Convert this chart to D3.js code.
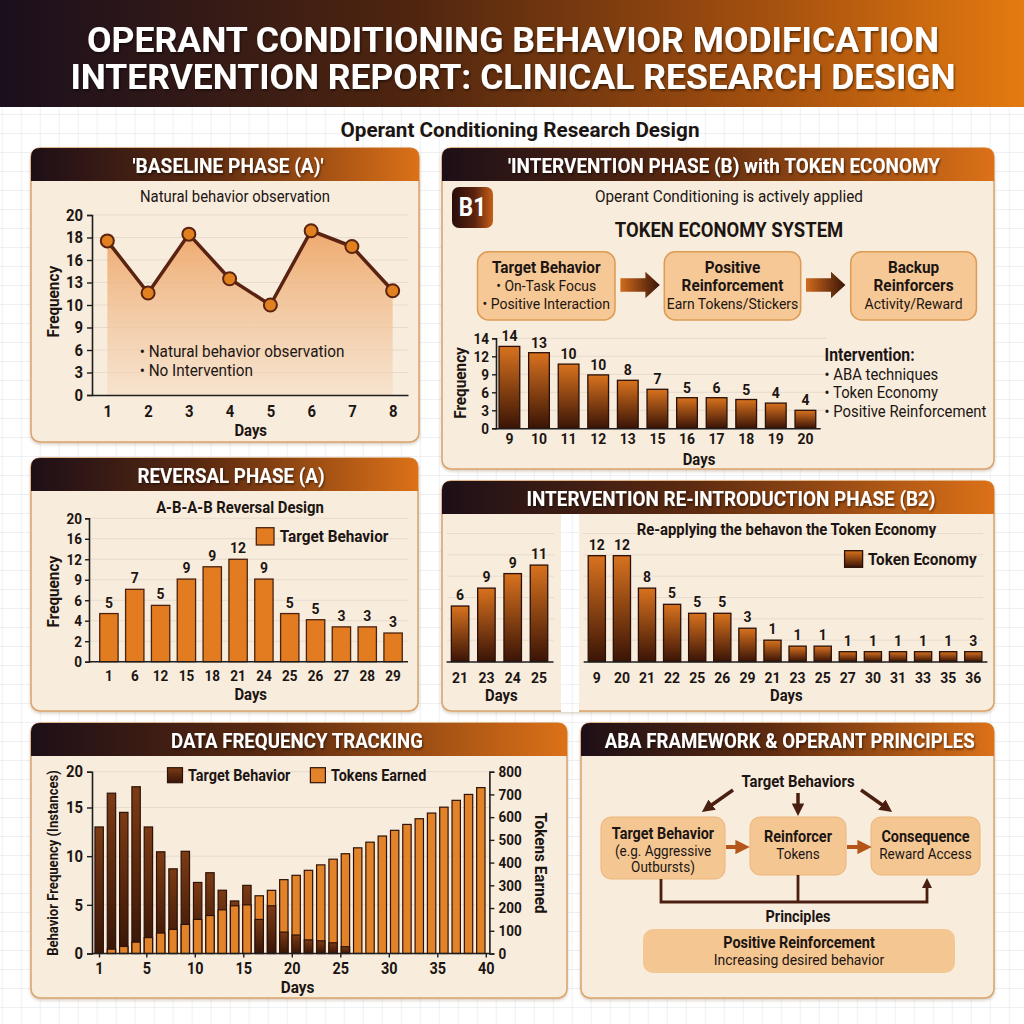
<!DOCTYPE html>
<html>
<head>
<meta charset="utf-8">
<title>Operant Conditioning Behavior Modification</title>
<script src="https://cdn.jsdelivr.net/npm/d3@7"></script>
<style>
  body { margin: 0; background: #fff; }
  svg { display: block; }
</style>
</head>
<body>
<svg id="chart" width="1024" height="1024"></svg>
<script>
// ---- data ----
var baselineDays = [1, 2, 3, 4, 5, 6, 7, 8];
var baselineFreq = [17.7, 11.6, 18.3, 13.5, 10.0, 18.6, 17.2, 11.9];
var baselineTicks = [0, 3, 6, 9, 10, 13, 16, 18, 20];

var tokenDays = ["9", "10", "11", "12", "13", "15", "16", "17", "18", "19", "20"];
var tokenFreq = [13.1, 12.4, 10.7, 8.9, 8.0, 6.5, 5.1, 5.1, 4.8, 4.2, 3.0];
var tokenLabels = [14, 13, 10, 10, 8, 7, 5, 6, 5, 4, 4];
var tokenTicks = [0, 3, 6, 9, 12, 14];

var reversalDays = ["1", "6", "12", "15", "18", "21", "24", "25", "26", "27", "28", "29"];
var reversalFreq = [4.7, 7.6, 5.5, 9.1, 10.9, 12, 9.1, 4.7, 4.1, 3.4, 3.4, 2.8];
var reversalLabels = [5, 7, 5, 9, 9, 12, 9, 5, 5, 3, 3, 3];
var reversalTicks = [0, 2, 4, 6, 9, 12, 16, 20];

var reintroEarlyDays = ["21", "23", "24", "25"];
var reintroEarlyFreq = [6.5, 8.6, 10.3, 11.3];
var reintroEarlyLabels = [6, 9, 9, 11];
var reintroDays = ["9", "20", "21", "22", "25", "26", "29", "21", "23", "25", "27", "30", "31", "33", "35", "36"];
var reintroFreq = [12.4, 12.4, 8.6, 6.7, 5.65, 5.65, 3.9, 2.5, 1.8, 1.8, 1.15, 1.15, 1.15, 1.15, 1.15, 1.15];
var reintroLabels = [12, 12, 8, 5, 5, 5, 3, 1, 1, 1, 1, 1, 1, 1, 1, 3];
var reintroGrid = [2.5, 5, 7.5, 10, 12.5, 15];

var trackBehavior = [13.0, 17.0, 14.5, 17.9, 13.0, 10.45, 8.7, 10.5, 7.3, 8.3, 6.5, 5.4, 7.0, 3.5, 4.9, 2.2,
  1.9, 1.4, 1.3, 1.1, 0.7, 0, 0, 0, 0, 0, 0, 0, 0, 0, 0, 0];
var trackTokens = [0, 19, 31, 50, 70, 90, 106, 128, 150, 167, 192, 210, 214, 254, 278, 325,
  344, 366, 390, 415, 439, 465, 490, 517, 542, 568, 593, 618, 644, 674, 700, 730];
var trackDayTicks = [1, 5, 10, 15, 20, 25, 30, 35, 40];
var trackFreqTicks = [0, 5, 10, 15, 20];
var trackTokenTicks = [0, 100, 200, 300, 400, 500, 600, 700, 800];

var flowSteps = [
  {title: ["Target Behavior"], lines: ["• On-Task Focus", "• Positive Interaction"]},
  {title: ["Positive", "Reinforcement"], lines: ["Earn Tokens/Stickers"]},
  {title: ["Backup", "Reinforcers"], lines: ["Activity/Reward"]}
];
var abaSteps = [
  {title: "Target Behavior", lines: ["(e.g. Aggressive", "Outbursts)"]},
  {title: "Reinforcer", lines: ["Tokens"]},
  {title: "Consequence", lines: ["Reward Access"]}
];

// ---- setup ----
var svg = d3.select("#chart");
var FONT = "Roboto, 'Noto Sans', 'DejaVu Sans', sans-serif";
var INK = "#1c1512";
var COND = 0.9;  // squeeze text to look like a condensed face
var defs = svg.append("defs");

function gradient(id, horizontal, stops) {
  var g = defs.append("linearGradient").attr("id", id)
    .attr("x1", 0).attr("y1", 0).attr("x2", horizontal ? 1 : 0).attr("y2", horizontal ? 0 : 1);
  stops.forEach(function(s) {
    g.append("stop").attr("offset", s[0]).attr("stop-color", s[1])
      .attr("stop-opacity", s[2] == null ? 1 : s[2]);
  });
}
gradient("topGrad", true, [[0, "#1a0f1d"], [0.4, "#4f250f"], [0.75, "#a4500f"], [1, "#e47a10"]]);
gradient("headGrad", true, [[0, "#1d0f17"], [0.45, "#5c2a10"], [1, "#dc7118"]]);
gradient("barGrad", false, [[0, "#d8721e"], [1, "#3a1406"]]);
gradient("darkGrad", false, [[0, "#7c3b14"], [1, "#381507"]]);
gradient("areaGrad", false, [[0, "#eda261", 0.9], [1, "#f5dcc2", 0.6]]);
gradient("arrowGrad", true, [[0, "#d06b1d"], [1, "#3a1407"]]);
gradient("badgeGrad", true, [[0, "#2a0d08"], [0.55, "#5a2310"], [1, "#c75f17"]]);

var sh = defs.append("filter").attr("id", "shadow")
  .attr("x", "-5%").attr("y", "-5%").attr("width", "110%").attr("height", "115%");
sh.append("feDropShadow").attr("dx", 0).attr("dy", 1.5).attr("stdDeviation", 1.5)
  .attr("flood-color", "#7a5030").attr("flood-opacity", 0.3);
var tsh = defs.append("filter").attr("id", "textShadow")
  .attr("x", "-5%").attr("y", "-20%").attr("width", "110%").attr("height", "150%");
tsh.append("feDropShadow").attr("dx", 1).attr("dy", 1.5).attr("stdDeviation", 1)
  .attr("flood-color", "#000").attr("flood-opacity", 0.55);

var pat = defs.append("pattern").attr("id", "grid").attr("patternUnits", "userSpaceOnUse")
  .attr("width", 19).attr("height", 19).attr("x", 1.7).attr("y", 0);
pat.append("path").attr("d", "M19 0 H0 V19").attr("fill", "none")
  .attr("stroke", "#dde2ea").attr("stroke-width", 1);

function marker(id, color) {
  defs.append("marker").attr("id", id).attr("viewBox", "0 0 10 10")
    .attr("refX", 6).attr("refY", 5).attr("markerWidth", 3.6).attr("markerHeight", 3.6)
    .attr("orient", "auto")
    .append("path").attr("d", "M0,0 L10,5 L0,10 Z").attr("fill", color);
}
marker("headDark", "#4a1f10");
marker("headOrange", "#b4561a");

function text(g, x, y, s, size, weight, anchor, fill) {
  return g.append("text").attr("x", x).attr("y", y).text(s)
    .attr("font-family", FONT).attr("font-size", size)
    .attr("font-weight", weight || "normal")
    .attr("text-anchor", anchor || "middle").attr("fill", fill || INK);
}

function fixedWidth(t, len) {
  return t.classed("fixed", true).attr("textLength", len).attr("lengthAdjust", "spacingAndGlyphs");
}

// scale with evenly spaced tick values (the picture spaces its odd tick labels evenly)
function evenScale(ticks, y0, y1) {
  return d3.scaleLinear().domain(ticks)
    .range(ticks.map(function(t, i) { return y0 + (y1 - y0) * i / (ticks.length - 1); }));
}

function styleAxis(g, size) {
  g.attr("font-family", FONT).attr("font-size", size).attr("font-weight", "bold");
  g.select(".domain").attr("stroke", "#1e1e1e").attr("stroke-width", 1.6);
  g.selectAll(".tick line").attr("stroke", "#1e1e1e").attr("stroke-width", 1.4);
  g.selectAll(".tick text").attr("fill", INK);
}

function grid(g, y, ticks, x0, x1) {
  g.append("g").selectAll("line").data(ticks).enter().append("line")
    .attr("x1", x0).attr("x2", x1)
    .attr("y1", function(d) { return y(d); }).attr("y2", function(d) { return y(d); })
    .attr("stroke", "#e6dbcd").attr("stroke-width", 1);
}

function yTitle(g, x, y, s, size, angle) {
  return text(g, 0, 0, s, size, "bold").attr("transform", "translate(" + x + "," + y + ") rotate(" + angle + ")");
}

function panel(x, y, w, h, title, titleX, titleLen) {
  var g = svg.append("g");
  g.append("rect").attr("x", x).attr("y", y).attr("width", w).attr("height", h).attr("rx", 9)
    .attr("fill", "#f8ecdd").attr("stroke", "#d9a36b").attr("stroke-width", 1.5)
    .attr("filter", "url(#shadow)");
  var hh = 33, r = 9;
  g.append("path")
    .attr("d", "M" + x + "," + (y + hh) + "V" + (y + r) + "Q" + x + "," + y + " " + (x + r) + "," + y +
      "H" + (x + w - r) + "Q" + (x + w) + "," + y + " " + (x + w) + "," + (y + r) + "V" + (y + hh) + "Z")
    .attr("fill", "url(#headGrad)");
  fixedWidth(text(g, titleX, y + 24.5, title, 21, "bold", "middle", "#fff"), titleLen)
    .attr("filter", "url(#textShadow)");
  return g;
}

// ---- page ----
svg.append("rect").attr("width", 1024).attr("height", 1024).attr("fill", "#fff");
svg.append("rect").attr("width", 1024).attr("height", 1024).attr("fill", "url(#grid)");
svg.append("rect").attr("width", 1024).attr("height", 107).attr("fill", "url(#topGrad)");
fixedWidth(text(svg, 513, 52, "OPERANT CONDITIONING BEHAVIOR MODIFICATION", 35, "bold", "middle", "#fff"), 852)
  .attr("filter", "url(#textShadow)");
fixedWidth(text(svg, 513, 89, "INTERVENTION REPORT: CLINICAL RESEARCH DESIGN", 35, "bold", "middle", "#fff"), 885)
  .attr("filter", "url(#textShadow)");
fixedWidth(text(svg, 520, 137, "Operant Conditioning Research Design", 20, "bold"), 359);

// ---- baseline phase (A) ----
var p1 = panel(31, 148, 388, 294, "'BASELINE PHASE (A)'", 228, 191);
text(p1, 235, 202, "Natural behavior observation", 16.5);

var bx = d3.scalePoint().domain(baselineDays).range([92, 408]).padding(0.376);
var by = evenScale(baselineTicks, 395, 215);
grid(p1, by, baselineTicks.slice(1), 92, 408);

p1.append("path").datum(baselineFreq)
  .attr("d", d3.area()
    .x(function(d, i) { return bx(baselineDays[i]); })
    .y0(by(0))
    .y1(function(d) { return by(d); }))
  .attr("fill", "url(#areaGrad)");
p1.append("path").datum(baselineFreq)
  .attr("d", d3.line()
    .x(function(d, i) { return bx(baselineDays[i]); })
    .y(function(d) { return by(d); }))
  .attr("fill", "none").attr("stroke", "#5a2210").attr("stroke-width", 3.5)
  .attr("stroke-linejoin", "round");
p1.selectAll(".pt").data(baselineFreq).enter().append("circle")
  .attr("cx", function(d, i) { return bx(baselineDays[i]); })
  .attr("cy", function(d) { return by(d); })
  .attr("r", 6.5).attr("fill", "#e0801f").attr("stroke", "#5a2210").attr("stroke-width", 2);

p1.append("g").attr("transform", "translate(92,0)")
  .call(d3.axisLeft(by).tickValues(baselineTicks).tickSize(5).tickPadding(4))
  .call(styleAxis, 16.5);
p1.append("g").attr("transform", "translate(0," + by(0) + ")")
  .call(d3.axisBottom(bx).tickSize(0).tickSizeOuter(0).tickPadding(10))
  .call(styleAxis, 16.5);

text(p1, 139.7, 357, "• Natural behavior observation", 17, "normal", "start");
text(p1, 139.7, 376, "• No Intervention", 17, "normal", "start");
text(p1, 250.7, 436, "Days", 16.5, "bold");
yTitle(p1, 59, 301.7, "Frequency", 17, -90);

// ---- intervention phase (B1) ----
var p2 = panel(442, 148, 552, 321, "'INTERVENTION PHASE (B) with TOKEN ECONOMY", 724, 432);
p2.append("rect").attr("x", 452).attr("y", 187).attr("width", 41).attr("height", 41).attr("rx", 7)
  .attr("fill", "url(#badgeGrad)");
text(p2, 472.5, 216, "B1", 25, "bold", "middle", "#fff");
text(p2, 729, 202, "Operant Conditioning is actively applied", 17);
text(p2, 729, 237, "TOKEN ECONOMY SYSTEM", 20.5, "bold");

var flowX = [477.5, 664.3, 850.7], flowW = [137.5, 136.4, 125.7];
flowSteps.forEach(function(s, i) {
  var cx = flowX[i] + flowW[i] / 2;
  p2.append("rect").attr("x", flowX[i]).attr("y", 251.7).attr("width", flowW[i]).attr("height", 68.3)
    .attr("rx", 11).attr("fill", "#f6c895").attr("stroke", "#dc9a55").attr("stroke-width", 1.5);
  s.title.concat(s.lines).forEach(function(l, k) {
    text(p2, cx, 272.5 + k * 18.3, l, k < s.title.length ? 17 : 15.5, k < s.title.length ? "bold" : "normal");
  });
});
[620.4, 806].forEach(function(x0) {
  p2.append("path")
    .attr("d", "M" + x0 + ",278.3H" + (x0 + 25) + "V271.7L" + (x0 + 39.4) + ",285L" + (x0 + 25) +
      ",298.3V291.7H" + x0 + "Z")
    .attr("fill", "url(#arrowGrad)");
});

var tx = d3.scaleBand().domain(tokenDays).range([494.6, 820.2]).paddingInner(0.3).paddingOuter(0.15);
var ty = evenScale(tokenTicks, 428.3, 338.3);
grid(p2, ty, tokenTicks.slice(1), 496, 826);
p2.selectAll(".bar").data(tokenFreq).enter().append("rect")
  .attr("x", function(d, i) { return tx(tokenDays[i]); })
  .attr("y", function(d) { return ty(d); })
  .attr("width", tx.bandwidth())
  .attr("height", function(d) { return ty(0) - ty(d); })
  .attr("fill", "url(#barGrad)").attr("stroke", "#2a1008").attr("stroke-width", 1.3);
p2.selectAll(".val").data(tokenFreq).enter().append("text")
  .attr("x", function(d, i) { return tx(tokenDays[i]) + tx.bandwidth() / 2; })
  .attr("y", function(d) { return ty(d) - 5; })
  .attr("text-anchor", "middle").attr("font-family", FONT).attr("font-size", 15.5)
  .attr("font-weight", "bold").attr("fill", INK)
  .text(function(d, i) { return tokenLabels[i]; });
p2.append("g").attr("transform", "translate(496,0)")
  .call(d3.axisLeft(ty).tickValues(tokenTicks).tickSize(4).tickPadding(3))
  .call(styleAxis, 15);
p2.append("g").attr("transform", "translate(0," + ty(0) + ")")
  .call(d3.axisBottom(tx).tickSize(0).tickSizeOuter(0).tickPadding(5))
  .call(styleAxis, 15.5);
text(p2, 699, 465, "Days", 16.5, "bold");
yTitle(p2, 466, 383, "Frequency", 17, -90);
text(p2, 824.6, 361, "Intervention:", 17.5, "bold", "start");
["• ABA techniques", "• Token Economy", "• Positive Reinforcement"].forEach(function(l, k) {
  text(p2, 824.6, 379.5 + k * 18.5, l, 16.5, "normal", "start");
});

// ---- reversal phase (A) ----
var p3 = panel(31, 458, 387, 253, "REVERSAL PHASE (A)", 231, 187);
text(p3, 240, 513, "A-B-A-B Reversal Design", 16.5, "bold");
var rx = d3.scaleBand().domain(reversalDays).range([96, 406]).paddingInner(0.29).paddingOuter(0.145);
var ry = evenScale(reversalTicks, 661.7, 518.3);
grid(p3, ry, reversalTicks.slice(1), 89, 408);
p3.selectAll(".bar").data(reversalFreq).enter().append("rect")
  .attr("x", function(d, i) { return rx(reversalDays[i]); })
  .attr("y", function(d) { return ry(d); })
  .attr("width", rx.bandwidth())
  .attr("height", function(d) { return ry(0) - ry(d); })
  .attr("fill", "#e37c20").attr("stroke", "#4a2210").attr("stroke-width", 1.3);
p3.selectAll(".val").data(reversalFreq).enter().append("text")
  .attr("x", function(d, i) { return rx(reversalDays[i]) + rx.bandwidth() / 2; })
  .attr("y", function(d) { return ry(d) - 6; })
  .attr("text-anchor", "middle").attr("font-family", FONT).attr("font-size", 15.5)
  .attr("font-weight", "bold").attr("fill", INK)
  .text(function(d, i) { return reversalLabels[i]; });
p3.append("g").attr("transform", "translate(89,0)")
  .call(d3.axisLeft(ry).tickValues(reversalTicks).tickSize(4).tickPadding(3))
  .call(styleAxis, 15);
p3.append("line").attr("x1", 89).attr("x2", 408).attr("y1", ry(0)).attr("y2", ry(0))
  .attr("stroke", "#1e1e1e").attr("stroke-width", 1.6);
p3.append("g").attr("transform", "translate(0," + ry(0) + ")")
  .call(d3.axisBottom(rx).tickSize(0).tickSizeOuter(0).tickPadding(9))
  .call(styleAxis, 15)
  .select(".domain").remove();
p3.append("rect").attr("x", 256.3).attr("y", 527.7).attr("width", 17.7).attr("height", 17.3)
  .attr("fill", "#e37c20").attr("stroke", "#4a2210").attr("stroke-width", 1.3);
text(p3, 279.7, 542, "Target Behavior", 17, "bold", "start");
text(p3, 250.7, 700, "Days", 16.5, "bold");
yTitle(p3, 59, 591.7, "Frequency", 17, -90);

// ---- intervention re-introduction (B2) ----
var p4 = panel(442, 481, 552, 230, "INTERVENTION RE-INTRODUCTION PHASE (B2)", 731, 409);
p4.append("rect").attr("x", 561).attr("y", 514).attr("width", 18).attr("height", 198).attr("fill", "#fff");
p4.append("rect").attr("x", 561).attr("y", 514).attr("width", 18).attr("height", 198).attr("fill", "url(#grid)");

var ey = d3.scaleLinear().domain([0, 15]).range([661.5, 533.5]);
var ex1 = d3.scaleBand().domain(reintroEarlyDays).range([446.1, 553]).paddingInner(0.335).paddingOuter(0.2);
var ex2 = d3.scaleBand().domain(d3.range(reintroDays.length)).range([583.2, 986.9])
  .paddingInner(0.315).paddingOuter(0.2);
grid(p4, ey, reintroGrid, 447, 554);
grid(p4, ey, reintroGrid, 583, 983);

function b2Bars(xs, keys, vals, labels) {
  var g = p4.append("g");
  g.selectAll("rect").data(vals).enter().append("rect")
    .attr("x", function(d, i) { return xs(keys[i]); })
    .attr("y", function(d) { return ey(d); })
    .attr("width", xs.bandwidth())
    .attr("height", function(d) { return ey(0) - ey(d); })
    .attr("fill", "url(#barGrad)").attr("stroke", "#2a1008").attr("stroke-width", 1.3);
  g.selectAll("text").data(vals).enter().append("text")
    .attr("x", function(d, i) { return xs(keys[i]) + xs.bandwidth() / 2; })
    .attr("y", function(d) { return ey(d) - 6; })
    .attr("text-anchor", "middle").attr("font-family", FONT).attr("font-size", 15.5)
    .attr("font-weight", "bold").attr("fill", INK)
    .text(function(d, i) { return labels[i]; });
}
b2Bars(ex1, reintroEarlyDays, reintroEarlyFreq, reintroEarlyLabels);
b2Bars(ex2, d3.range(reintroDays.length), reintroFreq, reintroLabels);
p4.append("g").attr("transform", "translate(0," + ey(0) + ")")
  .call(d3.axisBottom(ex1).tickSize(0).tickSizeOuter(0).tickPadding(10))
  .call(styleAxis, 15.5);
p4.append("g").attr("transform", "translate(0," + ey(0) + ")")
  .call(d3.axisBottom(ex2).tickSize(0).tickSizeOuter(0).tickPadding(10)
    .tickFormat(function(i) { return reintroDays[i]; }))
  .call(styleAxis, 15.5);
text(p4, 786.4, 535, "Re-applying the behavon the Token Economy", 16.5, "bold");
p4.append("rect").attr("x", 844.6).attr("y", 550.7).attr("width", 18).attr("height", 16.6)
  .attr("fill", "url(#barGrad)").attr("stroke", "#2a1008").attr("stroke-width", 1.3);
text(p4, 867.9, 565, "Token Economy", 17, "bold", "start");
text(p4, 501.4, 701, "Days", 16.5, "bold");
text(p4, 786.4, 701, "Days", 16.5, "bold");

// ---- data frequency tracking ----
var p5 = panel(31, 723, 536, 275, "DATA FREQUENCY TRACKING", 297, 252);
var kx = d3.scaleBand().domain(d3.range(trackBehavior.length)).range([93, 487])
  .paddingInner(0.32).paddingOuter(0.16);
var kDay = d3.scaleLinear().domain([1, 5, 40]).range([99, 146.3, 485.8]);
var kyL = d3.scaleLinear().domain([0, 15, 20]).range([953.5, 807.5, 771.7]);
var kyR = d3.scaleLinear().domain([0, 800]).range([953.5, 771.7]);
grid(p5, kyL, trackFreqTicks.slice(1), 92, 489);

var tracking = trackBehavior.map(function(b, i) {
  var layers = [
    {top: kyL(b), fill: "url(#darkGrad)", v: b},
    {top: kyR(trackTokens[i]), fill: "#e2832a", v: trackTokens[i]}
  ].filter(function(l) { return l.v > 0; })
   .sort(function(a, c) { return a.top - c.top; });  // taller bar behind, shorter in front
  return {i: i, layers: layers};
});
var cols = p5.selectAll(".col").data(tracking).enter().append("g");
cols.selectAll("rect").data(function(d) {
    return d.layers.map(function(l) { return {i: d.i, top: l.top, fill: l.fill}; });
  })
  .enter().append("rect")
  .attr("x", function(d) { return kx(d.i); })
  .attr("y", function(d) { return d.top; })
  .attr("width", kx.bandwidth())
  .attr("height", function(d) { return kyL(0) - d.top; })
  .attr("fill", function(d) { return d.fill; })
  .attr("stroke", "#2e1208").attr("stroke-width", 1.2);

p5.append("g").attr("transform", "translate(92,0)")
  .call(d3.axisLeft(kyL).tickValues(trackFreqTicks).tickSize(5).tickPadding(4))
  .call(styleAxis, 16.5);
p5.append("g").attr("transform", "translate(489.4,0)")
  .call(d3.axisRight(kyR).tickValues(trackTokenTicks).tickSize(5).tickPadding(4))
  .call(styleAxis, 15);
p5.append("line").attr("x1", 92).attr("x2", 489.4).attr("y1", kyL(0)).attr("y2", kyL(0))
  .attr("stroke", "#1e1e1e").attr("stroke-width", 1.6);
p5.append("g").attr("transform", "translate(0," + kyL(0) + ")")
  .call(d3.axisBottom(kDay).tickValues(trackDayTicks).tickSize(4).tickPadding(5))
  .call(styleAxis, 16)
  .select(".domain").remove();

p5.append("rect").attr("x", 167.5).attr("y", 767.7).attr("width", 15).attr("height", 15)
  .attr("fill", "url(#darkGrad)").attr("stroke", "#2e1208").attr("stroke-width", 1.2);
text(p5, 188, 781, "Target Behavior", 16, "bold", "start");
p5.append("rect").attr("x", 310.4).attr("y", 767.7).attr("width", 15).attr("height", 15)
  .attr("fill", "#e2832a").attr("stroke", "#2e1208").attr("stroke-width", 1.2);
text(p5, 331, 781, "Tokens Earned", 16, "bold", "start");
text(p5, 297.6, 993, "Days", 17, "bold");
yTitle(p5, 57.5, 863, "Behavior Frequency (Instances)", 14.5, -90);
yTitle(p5, 535, 863, "Tokens Earned", 17, 90);

// ---- ABA framework ----
var p6 = panel(581, 723, 413, 275, "ABA FRAMEWORK & OPERANT PRINCIPLES", 789.7, 370);
text(p6, 798, 787, "Target Behaviors", 16.5, "bold");
var abaX = [601, 750, 871], abaW = [124, 96, 109], abaH = [62, 58, 58];
abaSteps.forEach(function(s, i) {
  var cx = abaX[i] + abaW[i] / 2;
  p6.append("rect").attr("x", abaX[i]).attr("y", 817).attr("width", abaW[i]).attr("height", abaH[i])
    .attr("rx", 10).attr("fill", "#f4c792").attr("stroke", "#ecb57a").attr("stroke-width", 1);
  var y0 = i === 0 ? 839 : 842;
  text(p6, cx, y0, s.title, 16, "bold");
  s.lines.forEach(function(l, k) { text(p6, cx, y0 + 16.5 * (k + 1), l, 15); });
});
[[733, 790, 706, 809], [798, 793, 798, 811], [861, 790, 888, 809]].forEach(function(a) {
  p6.append("line").attr("x1", a[0]).attr("y1", a[1]).attr("x2", a[2]).attr("y2", a[3])
    .attr("stroke", "#4a1f10").attr("stroke-width", 3.5).attr("marker-end", "url(#headDark)");
});
[[726, 744], [847, 866]].forEach(function(a) {
  p6.append("line").attr("x1", a[0]).attr("y1", 847).attr("x2", a[1]).attr("y2", 847)
    .attr("stroke", "#b4561a").attr("stroke-width", 4).attr("marker-end", "url(#headOrange)");
});
p6.append("path").attr("d", "M661,879V902H927V882").attr("fill", "none")
  .attr("stroke", "#4a1f10").attr("stroke-width", 2.8).attr("marker-end", "url(#headDark)");
p6.append("path").attr("d", "M798,875V902").attr("fill", "none")
  .attr("stroke", "#4a1f10").attr("stroke-width", 2.8);
text(p6, 798, 922, "Principles", 16, "bold");
p6.append("rect").attr("x", 643).attr("y", 929).attr("width", 312).attr("height", 44)
  .attr("rx", 10).attr("fill", "#f4c792");
text(p6, 799, 948, "Positive Reinforcement", 16, "bold");
text(p6, 799, 965, "Increasing desired behavior", 15.5);

// condense every free text
svg.selectAll("text").filter(function() { return !d3.select(this).classed("fixed"); })
  .each(function() {
    var len = this.getComputedTextLength();
    d3.select(this).attr("textLength", len * COND).attr("lengthAdjust", "spacingAndGlyphs");
  });
</script>
</body>
</html>
